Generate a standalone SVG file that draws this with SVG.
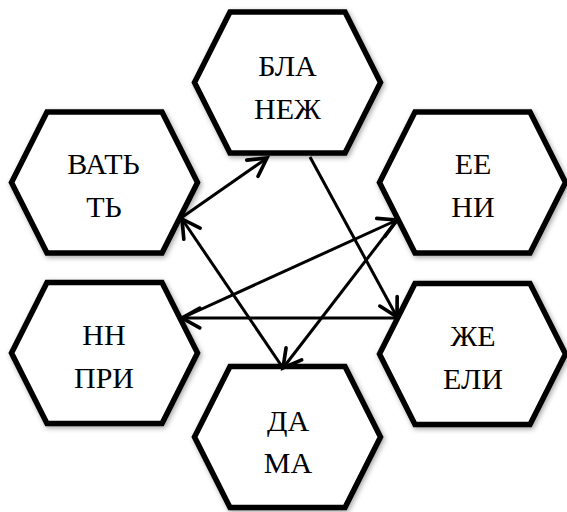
<svg xmlns="http://www.w3.org/2000/svg" xmlns:xlink="http://www.w3.org/1999/xlink" width="567" height="512" viewBox="0 0 567 512">
<style>
.hex{fill:#fff;stroke:#000;stroke-width:5.5;stroke-linejoin:miter;filter:url(#sh)}
.lbl{font-family:"Liberation Serif","Times New Roman",serif;font-size:30px;fill:#000;text-anchor:middle}
.con{stroke:#000;stroke-width:3;fill:none}
.arr{marker-end:url(#ah)}
</style>
<defs>
<filter id="sh" x="-20%" y="-20%" width="140%" height="140%">
<feDropShadow dx="1.5" dy="2" stdDeviation="2.5" flood-color="#000" flood-opacity="0.35"/>
</filter>
<polygon id="hx" points="-57.5,-70.5 57.5,-70.5 93,0 57.5,70.5 -57.5,70.5 -93,0"/>
<marker id="ah" markerUnits="userSpaceOnUse" markerWidth="30" markerHeight="30" refX="0" refY="0" viewBox="-22 -14 26 28" orient="auto" overflow="visible">
<path d="M-16.6,-9.2 L0,0 L-16.6,9.2" fill="none" stroke="#000" stroke-width="3.4" stroke-linecap="round" stroke-linejoin="miter"/>
</marker>
</defs>
<g id="n-bla">
<use xlink:href="#hx" href="#hx" class="hex" x="287.5" y="82.5"/>
<text class="lbl" x="287.5" y="76">БЛА</text>
<text class="lbl" x="287.5" y="119">НЕЖ</text>
</g>
<g id="n-vat">
<use xlink:href="#hx" href="#hx" class="hex" x="104.5" y="182.5"/>
<text class="lbl" x="103.5" y="174">ВАТЬ</text>
<text class="lbl" x="104" y="217">ТЬ</text>
</g>
<g id="n-ee">
<use xlink:href="#hx" href="#hx" class="hex" x="472.5" y="182.5"/>
<text class="lbl" x="473" y="174">ЕЕ</text>
<text class="lbl" x="473" y="217">НИ</text>
</g>
<g id="n-nn">
<use xlink:href="#hx" href="#hx" class="hex" x="104.5" y="353"/>
<text class="lbl" x="104" y="345">НН</text>
<text class="lbl" x="104" y="388">ПРИ</text>
</g>
<g id="n-zhe">
<use xlink:href="#hx" href="#hx" class="hex" x="472.5" y="354"/>
<text class="lbl" x="473" y="346">ЖЕ</text>
<text class="lbl" x="473" y="389">ЕЛИ</text>
</g>
<g id="n-da">
<use xlink:href="#hx" href="#hx" class="hex" x="287.5" y="437"/>
<text class="lbl" x="288" y="431">ДА</text>
<text class="lbl" x="288" y="473">МА</text>
</g>
<g id="connectors">
<line class="con arr" x1="181" y1="218" x2="267" y2="158"/>
<line class="con arr" x1="310" y1="157" x2="397" y2="317"/>
<line class="con arr" x1="397" y1="318" x2="182" y2="318"/>
<line class="con arr" x1="182" y1="318" x2="397" y2="220"/>
<line class="con arr" x1="397" y1="220" x2="283" y2="368"/>
<line class="con arr" x1="283" y1="368" x2="182" y2="219"/>
</g>
</svg>
